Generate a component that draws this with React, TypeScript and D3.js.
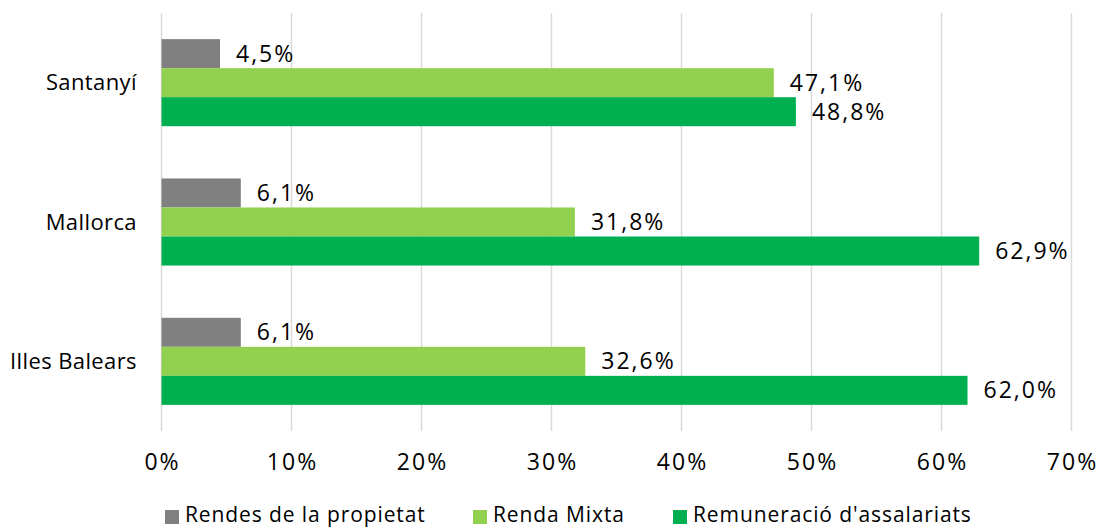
import React from "react";
import * as d3 from "d3";

const categories = ["Santanyí", "Mallorca", "Illes Balears"];
const seriesNames = ["Rendes de la propietat", "Renda Mixta", "Remuneració d'assalariats"];
const rendesPropietat = [4.5, 6.1, 6.1];
const rendaMixta = [47.1, 31.8, 32.6];
const remuneracio = [48.8, 62.9, 62.0];
const xTicks = [0, 10, 20, 30, 40, 50, 60, 70];
const colors = ["#808080", "#92D050", "#00B050"];

const W = 1102;
const H = 528;
const FONT = "'Century Gothic', 'URW Gothic', 'Open Sans', sans-serif";

export default function App() {
  const seriesValues = [rendesPropietat, rendaMixta, remuneracio];
  const x = d3.scaleLinear().domain([0, 70]).range([161.5, 1071.5]);
  const y = d3
    .scaleBand<string>()
    .domain(categories)
    .range([13, 431])
    .paddingInner(0.375)
    .paddingOuter(0.1875);
  const ySub = d3
    .scaleBand<string>()
    .domain(seriesNames)
    .range([0, y.bandwidth()]);
  const fmt = (v: number) => v.toFixed(1).replace(".", ",") + "%";

  const legendX = [165, 473, 673];

  return (
    <svg width={W} height={H} style={{ position: "absolute", left: 0, top: 0 }} fontFamily={FONT}>
      <rect width={W} height={H} fill="#fff" />
      {xTicks.map((t) => (
        <line key={t} x1={x(t)} x2={x(t)} y1={13} y2={431} stroke="#d9d9d9" strokeWidth={1.5} />
      ))}
      {categories.map((c, ci) => (
        <g key={c}>
          {seriesNames.map((s, si) => {
            const v = seriesValues[si][ci];
            const y0 = (y(c) as number) + (ySub(s) as number);
            return (
              <g key={s}>
                <rect
                  x={x(0)}
                  y={y0}
                  width={x(v) - x(0)}
                  height={ySub.bandwidth()}
                  fill={colors[si]}
                />
                <text
                  x={x(v) + 16}
                  y={y0 + ySub.bandwidth() / 2}
                  dy="0.35em"
                  fontSize={23}
                  letterSpacing={2}
                  fill="#000"
                >
                  {fmt(v)}
                </text>
              </g>
            );
          })}
          <text
            x={137}
            y={(y(c) as number) + y.bandwidth() / 2}
            dy="0.35em"
            textAnchor="end"
            fontSize={22}
            letterSpacing={0.4}
            fill="#000"
          >
            {c}
          </text>
        </g>
      ))}
      {xTicks.map((t) => (
        <text
          key={t}
          x={x(t) + 1}
          y={462}
          dy="0.35em"
          textAnchor="middle"
          fontSize={23}
          letterSpacing={2}
          fill="#000"
        >
          {t + "%"}
        </text>
      ))}
      {seriesNames.map((s, si) => (
        <g key={s}>
          <rect x={legendX[si]} y={510} width={14} height={14} fill={colors[si]} />
          <text x={legendX[si] + 20} y={522} fontSize={21} letterSpacing={0.9} fill="#000">
            {s}
          </text>
        </g>
      ))}
    </svg>
  );
}
